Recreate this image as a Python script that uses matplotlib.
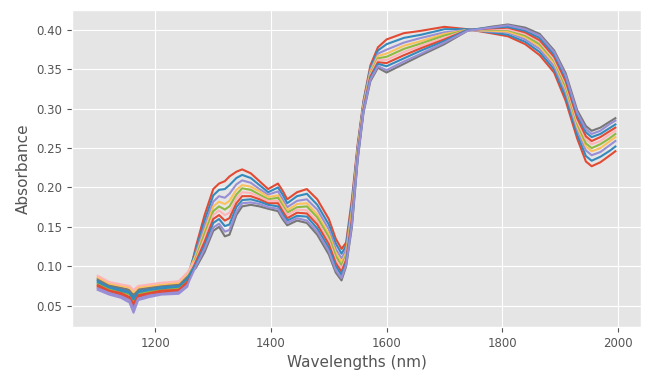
import matplotlib
matplotlib.use('Agg')
import matplotlib.pyplot as plt

plt.style.use('ggplot')
plt.rcParams['xtick.labelsize'] = 8.5
plt.rcParams['ytick.labelsize'] = 8.5
plt.rcParams['axes.labelsize'] = 11

wavelengths = [1100, 1120, 1140, 1155, 1162, 1170, 1190, 1210, 1240, 1255,
               1270, 1285, 1300, 1310, 1320, 1328, 1340, 1350, 1365, 1380,
               1395, 1412, 1420, 1428, 1445, 1462, 1480, 1500, 1512, 1522,
               1530, 1540, 1550, 1560, 1572, 1585, 1600, 1630, 1660, 1700,
               1740, 1780, 1810, 1840, 1865, 1890, 1910, 1930, 1945, 1955,
               1970, 1985, 1996]

# Absorbance spectra, one list per sample
s_a = [.074, .067, .064, .059, .049, .061, .064, .067, .068, .078,
       .125, .165, .198, .205, .208, .214, .220, .223, .218, .208,
       .198, .205, .196, .185, .194, .198, .185, .160, .135, .122,
       .130, .185, .255, .310, .355, .378, .388, .396, .399, .404,
       .401, .396, .392, .382, .368, .346, .310, .262, .233, .227,
       .232, .240, .246]
s_b = [.082, .075, .071, .068, .061, .069, .072, .074, .076, .086,
       .121, .158, .190, .197, .198, .203, .212, .216, .212, .203,
       .194, .200, .191, .180, .189, .192, .178, .153, .129, .116,
       .126, .180, .252, .308, .352, .374, .382, .390, .394, .401,
       .401, .397, .394, .385, .372, .350, .315, .267, .240, .234,
       .239, .246, .252]
s_c = [.070, .064, .060, .054, .041, .057, .061, .064, .065, .074,
       .117, .151, .182, .189, .187, .192, .204, .209, .206, .198,
       .191, .195, .185, .175, .183, .185, .172, .147, .122, .110,
       .121, .175, .249, .306, .349, .370, .375, .384, .390, .397,
       .400, .398, .397, .388, .376, .354, .321, .273, .247, .241,
       .245, .253, .259]
s_d = [.086, .078, .075, .073, .067, .073, .075, .077, .079, .090,
       .114, .145, .176, .182, .179, .183, .197, .203, .201, .195,
       .188, .190, .181, .171, .179, .180, .166, .141, .117, .105,
       .117, .170, .247, .304, .347, .367, .370, .380, .386, .395,
       .400, .399, .398, .391, .379, .358, .325, .277, .252, .246,
       .250, .258, .264]
s_e = [.078, .071, .068, .064, .055, .065, .068, .071, .072, .082,
       .111, .141, .170, .176, .172, .176, .191, .199, .197, .191,
       .185, .187, .177, .168, .175, .176, .162, .137, .113, .101,
       .114, .167, .245, .302, .345, .364, .366, .376, .383, .393,
       .400, .400, .400, .393, .382, .361, .328, .281, .256, .250,
       .255, .262, .268]
s_f = [.088, .080, .077, .075, .070, .075, .077, .079, .081, .092,
       .108, .136, .165, .171, .165, .168, .186, .194, .193, .188,
       .183, .183, .174, .165, .172, .171, .157, .132, .108, .097,
       .111, .163, .243, .301, .343, .362, .362, .372, .380, .390,
       .400, .401, .401, .395, .385, .363, .332, .284, .261, .255,
       .259, .267, .272]
s_g = [.076, .069, .066, .061, .052, .063, .066, .069, .070, .080,
       .106, .131, .160, .165, .158, .161, .180, .189, .189, .185,
       .180, .180, .170, .161, .168, .167, .153, .128, .104, .093,
       .108, .160, .241, .299, .341, .359, .358, .368, .377, .388,
       .400, .402, .403, .397, .387, .366, .335, .288, .265, .259,
       .264, .271, .276]
s_h = [.080, .073, .069, .066, .058, .067, .070, .072, .074, .084,
       .103, .126, .155, .160, .151, .153, .175, .184, .185, .182,
       .178, .176, .166, .158, .164, .163, .148, .123, .100, .089,
       .105, .156, .239, .298, .339, .357, .354, .364, .374, .386,
       .400, .403, .404, .399, .390, .369, .339, .292, .270, .264,
       .268, .275, .280]
s_i = [.072, .066, .062, .057, .046, .059, .063, .065, .067, .076,
       .100, .122, .149, .154, .144, .146, .169, .180, .181, .179,
       .175, .173, .163, .155, .161, .158, .144, .119, .095, .085,
       .102, .153, .237, .296, .337, .354, .349, .360, .370, .384,
       .399, .403, .406, .401, .393, .372, .342, .295, .274, .268,
       .272, .280, .285]
s_j = [.084, .076, .073, .070, .064, .071, .073, .076, .077, .088,
       .098, .118, .145, .150, .138, .140, .165, .176, .178, .176,
       .173, .170, .160, .152, .158, .155, .140, .115, .092, .082,
       .100, .150, .235, .295, .335, .352, .346, .357, .368, .382,
       .399, .404, .407, .403, .395, .374, .345, .298, .278, .272,
       .276, .283, .288]

spectra = [s_a, s_b, s_c, s_j, s_d, s_e, s_f, s_g, s_h, s_i]

fig, ax = plt.subplots(figsize=(6.53, 3.73), dpi=100)
fig.subplots_adjust(left=0.110, right=0.982, top=0.973, bottom=0.123)

for s in spectra:
    ax.plot(wavelengths, s)

ax.set_xlabel('Wavelengths (nm)')
ax.set_ylabel('Absorbance')

fig.savefig('out.png', dpi=100)
